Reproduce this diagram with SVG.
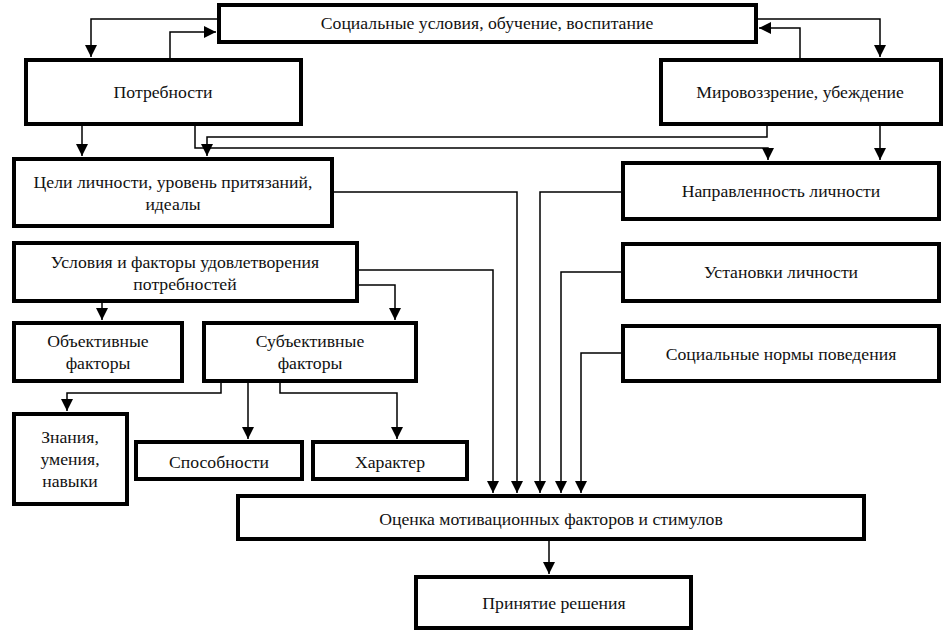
<svg xmlns="http://www.w3.org/2000/svg" width="945" height="639" viewBox="0 0 945 639">
<style>
.box{fill:#fff;stroke:#000;stroke-width:4}
.t{font-family:"Liberation Serif","Times New Roman",serif;font-size:17.7px;fill:#111;text-anchor:middle;dominant-baseline:central}
.c{fill:none;stroke:#000;stroke-width:1.5}
</style>
<defs>
<marker id="a" markerUnits="userSpaceOnUse" markerWidth="12" markerHeight="12" viewBox="0 0 12 12" refX="12" refY="6" orient="auto">
<path d="M0,0 L12,6 L0,12 Z" fill="#000"/>
</marker>
</defs>
<rect width="945" height="639" fill="#fff"/>
<g id="connectors">
<polyline class="c" points="218,19 91,19 91,57" marker-end="url(#a)"/>
<polyline class="c" points="170,58 170,32 216,32" marker-end="url(#a)"/>
<polyline class="c" points="800,58 800,28 759,28" marker-end="url(#a)"/>
<polyline class="c" points="757,19 880,19 880,57" marker-end="url(#a)"/>
<line class="c" x1="82" y1="125" x2="82" y2="156" marker-end="url(#a)"/>
<polyline class="c" points="767,125 767,137 207,137 207,156" marker-end="url(#a)"/>
<polyline class="c" points="195,125 195,148 768,148 768,160" marker-end="url(#a)"/>
<line class="c" x1="880" y1="125" x2="880" y2="160" marker-end="url(#a)"/>
<polyline class="c" points="333,192 517,192 517,493" marker-end="url(#a)"/>
<polyline class="c" points="622,192 540,192 540,493" marker-end="url(#a)"/>
<polyline class="c" points="622,272 561,272 561,493" marker-end="url(#a)"/>
<polyline class="c" points="622,353 581,353 581,493" marker-end="url(#a)"/>
<polyline class="c" points="358,270 493,270 493,493" marker-end="url(#a)"/>
<line class="c" x1="102" y1="302" x2="102" y2="320" marker-end="url(#a)"/>
<polyline class="c" points="358,285 395,285 395,320" marker-end="url(#a)"/>
<polyline class="c" points="221,382 221,393 67,393 67,411" marker-end="url(#a)"/>
<line class="c" x1="248" y1="382" x2="248" y2="439" marker-end="url(#a)"/>
<polyline class="c" points="280,382 280,393 397,393 397,439" marker-end="url(#a)"/>
<line class="c" x1="549" y1="540" x2="549" y2="574" marker-end="url(#a)"/>
</g>
<g id="n-social"><rect class="box" x="219" y="5" width="537" height="37"/><text class="t" x="487" y="23">Социальные условия, обучение, воспитание</text></g>
<g id="n-needs"><rect class="box" x="26" y="60" width="275" height="64"/><text class="t" x="163" y="92">Потребности</text></g>
<g id="n-world"><rect class="box" x="661" y="60" width="280" height="64"/><text class="t" x="800" y="92">Мировоззрение, убеждение</text></g>
<g id="n-goals"><rect class="box" x="14" y="159" width="318" height="67"/><text class="t" x="173" y="182">Цели личности, уровень притязаний,</text><text class="t" x="173" y="204">идеалы</text></g>
<g id="n-direction"><rect class="box" x="623" y="163" width="316" height="56"/><text class="t" x="781" y="191">Направленность личности</text></g>
<g id="n-conditions"><rect class="box" x="14" y="243" width="343" height="58"/><text class="t" x="185" y="262">Условия и факторы удовлетворения</text><text class="t" x="185" y="284">потребностей</text></g>
<g id="n-attitudes"><rect class="box" x="623" y="244" width="316" height="57"/><text class="t" x="781" y="272">Установки личности</text></g>
<g id="n-norms"><rect class="box" x="623" y="326" width="316" height="55"/><text class="t" x="781" y="354">Социальные нормы поведения</text></g>
<g id="n-objective"><rect class="box" x="14" y="323" width="168" height="58"/><text class="t" x="98" y="341">Объективные</text><text class="t" x="98" y="363">факторы</text></g>
<g id="n-subjective"><rect class="box" x="204" y="323" width="212" height="58"/><text class="t" x="310" y="341">Субъективные</text><text class="t" x="310" y="363">факторы</text></g>
<g id="n-knowledge"><rect class="box" x="14" y="414" width="113" height="90"/><text class="t" x="70" y="437">Знания,</text><text class="t" x="70" y="459">умения,</text><text class="t" x="70" y="481">навыки</text></g>
<g id="n-abilities"><rect class="box" x="136" y="442" width="166" height="37"/><text class="t" x="219" y="462">Способности</text></g>
<g id="n-character"><rect class="box" x="313" y="442" width="154" height="37"/><text class="t" x="390" y="462">Характер</text></g>
<g id="n-eval"><rect class="box" x="238" y="496" width="626" height="43"/><text class="t" x="551" y="519">Оценка мотивационных факторов и стимулов</text></g>
<g id="n-decision"><rect class="box" x="416" y="577" width="275" height="51"/><text class="t" x="554" y="603">Принятие решения</text></g>
</svg>
